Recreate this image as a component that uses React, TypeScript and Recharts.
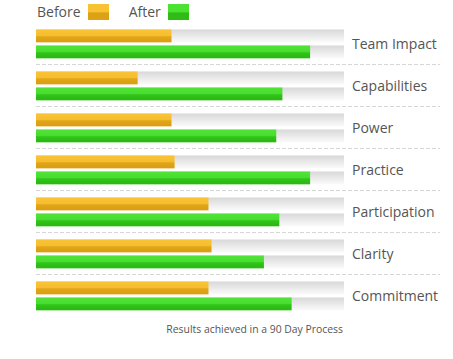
import React from 'react';
import { BarChart, Bar, XAxis, YAxis } from 'recharts';

const categories = ['Team Impact', 'Capabilities', 'Power', 'Practice', 'Participation', 'Clarity', 'Commitment'];
const beforeValues = [44, 33, 44, 45, 56, 57, 56];
const afterValues = [89, 80, 78, 89, 79, 74, 83];
const seriesNames = ['Before', 'After'];
const caption = 'Results achieved in a 90 Day Process';

const data = categories.map((name, i) => ({
  name,
  before: beforeValues[i],
  after: afterValues[i],
}));

const FONT = '"Open Sans", "Noto Sans", sans-serif';
const TEXT = '#555555';
const PLOT_LEFT = 36;
const SEP_RIGHT = 440;
const HALF_BAND = 21;

const CategoryTick = (props: any) => {
  const { x, y, payload, index } = props;
  const last = index === categories.length - 1;
  return (
    <g>
      <text x={x} y={y} dy={5} fill={TEXT} fontSize={14} fontFamily={FONT} textAnchor="start">
        {payload.value}
      </text>
      {!last && (
        <line
          x1={PLOT_LEFT}
          x2={SEP_RIGHT}
          y1={y + HALF_BAND}
          y2={y + HALF_BAND}
          stroke="#d6d6d6"
          strokeDasharray="4 2"
        />
      )}
    </g>
  );
};

const Swatch = ({ top, bottom }: { top: string; bottom: string }) => (
  <span
    style={{
      display: 'inline-block',
      width: 21,
      height: 16,
      background: `linear-gradient(${top} 0%, ${top} 50%, ${bottom} 55%, ${bottom} 100%)`,
    }}
  />
);

export default function App() {
  return (
    <div style={{ position: 'absolute', left: 0, top: 0, width: 453, height: 359, background: '#fff', fontFamily: FONT }}>
      <div style={{ position: 'absolute', left: 37, top: 2, display: 'flex', alignItems: 'center', color: TEXT, fontSize: 14 }}>
        <span>{seriesNames[0]}</span>
        <span style={{ marginLeft: 7, display: 'flex' }}>
          <Swatch top="#f8c232" bottom="#dca114" />
        </span>
        <span style={{ marginLeft: 20 }}>{seriesNames[1]}</span>
        <span style={{ marginLeft: 7, display: 'flex' }}>
          <Swatch top="#4be232" bottom="#2dbd14" />
        </span>
      </div>
      <BarChart
        width={453}
        height={359}
        data={data}
        layout="vertical"
        margin={{ top: 22.5, right: 0, bottom: 42.5, left: PLOT_LEFT }}
        barSize={13}
        barGap={3}
      >
        <defs>
          <linearGradient id="gOrange" x1="0" y1="0" x2="0" y2="1">
            <stop offset="0" stopColor="#f9c437" />
            <stop offset="0.5" stopColor="#f6bd2c" />
            <stop offset="0.55" stopColor="#e2a61b" />
            <stop offset="0.92" stopColor="#d99e12" />
            <stop offset="1" stopColor="#e9b94a" />
          </linearGradient>
          <linearGradient id="gGreen" x1="0" y1="0" x2="0" y2="1">
            <stop offset="0" stopColor="#4fe437" />
            <stop offset="0.5" stopColor="#47dc2e" />
            <stop offset="0.55" stopColor="#31c51a" />
            <stop offset="0.92" stopColor="#2ab812" />
            <stop offset="1" stopColor="#6fd45a" />
          </linearGradient>
          <linearGradient id="gTrack" x1="0" y1="0" x2="0" y2="1">
            <stop offset="0" stopColor="#d8d8d8" />
            <stop offset="1" stopColor="#fbfbfb" />
          </linearGradient>
        </defs>
        <XAxis type="number" domain={[0, 100]} hide />
        <YAxis
          type="category"
          dataKey="name"
          orientation="right"
          width={109}
          axisLine={false}
          tickLine={false}
          tickSize={0}
          tickMargin={8}
          tick={<CategoryTick />}
          interval={0}
        />
        <Bar dataKey="before" fill="url(#gOrange)" background={{ fill: 'url(#gTrack)' }} isAnimationActive={false} />
        <Bar dataKey="after" fill="url(#gGreen)" background={{ fill: 'url(#gTrack)' }} isAnimationActive={false} />
      </BarChart>
      <div style={{ position: 'absolute', right: 110, top: 322, color: TEXT, fontSize: 10.4, whiteSpace: 'nowrap' }}>
        {caption}
      </div>
    </div>
  );
}
